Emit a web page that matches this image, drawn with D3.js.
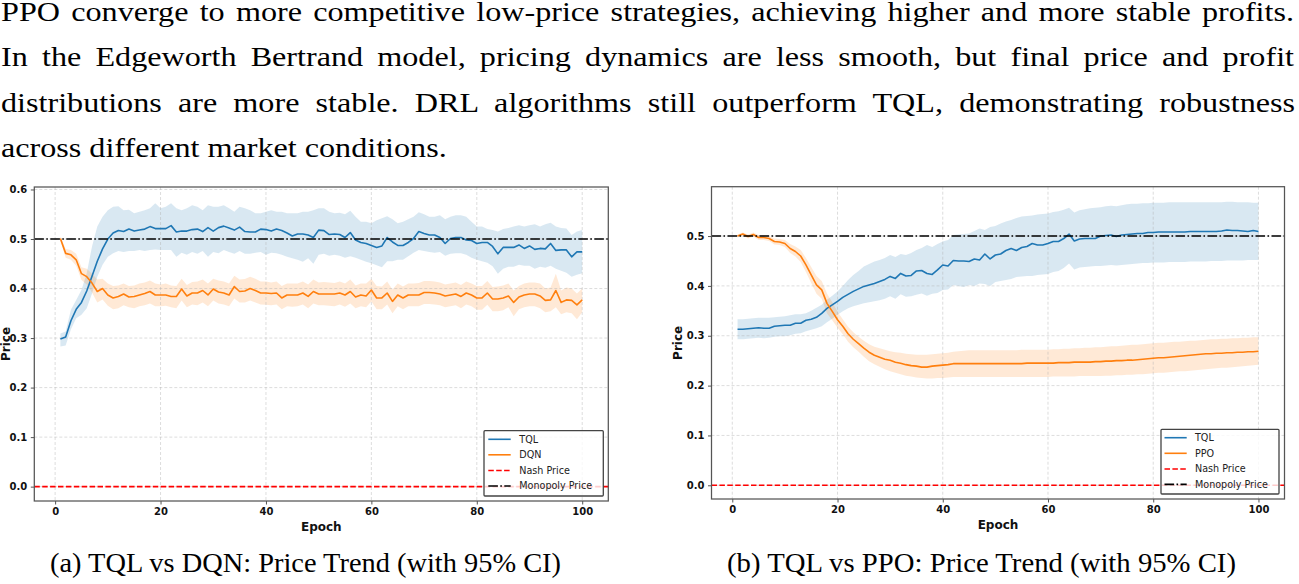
<!DOCTYPE html>
<html><head><meta charset="utf-8">
<script src="https://cdn.jsdelivr.net/npm/d3@7/dist/d3.min.js"></script>
<style>html,body{margin:0;padding:0;background:#fff;overflow:hidden}
.serif{font-family:"Liberation Serif","Times New Roman",serif;}</style>
</head><body><svg id="c" width="1299" height="584"></svg>
<script>
// ---------------- DATA ----------------
const epochs = d3.range(1, 101);
const xTicks = [0, 20, 40, 60, 80, 100];
const yTicksA = [0.0, 0.1, 0.2, 0.3, 0.4, 0.5, 0.6];
const yTicksB = [0.0, 0.1, 0.2, 0.3, 0.4, 0.5];
const nashPrice = 0.0;
const monopolyPrice = 0.5;

const paragraph = [
  "PPO converge to more competitive low-price strategies, achieving higher and more stable profits.",
  "In the Edgeworth Bertrand model, pricing dynamics are less smooth, but final price and profit",
  "distributions are more stable. DRL algorithms still outperform TQL, demonstrating robustness",
  "across different market conditions."
];
const captionA = "(a) TQL vs DQN: Price Trend (with 95% CI)";
const captionB = "(b) TQL vs PPO: Price Trend (with 95% CI)";
const legendA = ["TQL", "DQN", "Nash Price", "Monopoly Price"];
const legendB = ["TQL", "PPO", "Nash Price", "Monopoly Price"];

// Panel (a): TQL
const tqlA = [0.298,0.302,0.335,0.358,0.372,0.395,0.425,0.455,0.480,0.500,
0.512,0.517,0.515,0.520,0.516,0.518,0.520,0.525,0.521,0.521,
0.521,0.527,0.514,0.516,0.516,0.519,0.520,0.515,0.523,0.516,
0.523,0.526,0.522,0.518,0.524,0.515,0.514,0.514,0.520,0.519,
0.516,0.520,0.517,0.512,0.506,0.510,0.510,0.508,0.503,0.518,
0.517,0.509,0.510,0.509,0.503,0.513,0.498,0.493,0.491,0.487,
0.483,0.486,0.503,0.494,0.487,0.487,0.493,0.501,0.515,0.511,
0.508,0.508,0.503,0.491,0.501,0.503,0.503,0.498,0.497,0.491,
0.493,0.493,0.485,0.470,0.483,0.483,0.483,0.488,0.481,0.486,
0.479,0.481,0.480,0.491,0.477,0.478,0.478,0.464,0.474,0.474];
const tqlAHi = [0.309,0.313,0.357,0.377,0.397,0.431,0.485,0.525,0.545,0.558,
0.565,0.566,0.558,0.559,0.552,0.555,0.558,0.562,0.572,0.562,
0.565,0.572,0.562,0.558,0.562,0.568,0.565,0.558,0.568,0.565,
0.565,0.568,0.562,0.555,0.565,0.562,0.558,0.552,0.552,0.555,
0.558,0.555,0.555,0.552,0.552,0.552,0.555,0.555,0.558,0.562,
0.562,0.555,0.552,0.553,0.550,0.557,0.545,0.535,0.535,0.532,
0.538,0.542,0.546,0.540,0.532,0.535,0.540,0.545,0.554,0.550,
0.545,0.545,0.548,0.540,0.545,0.548,0.548,0.545,0.535,0.525,
0.525,0.520,0.518,0.515,0.520,0.522,0.525,0.528,0.525,0.528,
0.530,0.525,0.530,0.533,0.525,0.522,0.521,0.508,0.515,0.518];
const tqlALo = [0.283,0.285,0.318,0.340,0.347,0.360,0.390,0.424,0.448,0.464,
0.471,0.476,0.474,0.476,0.476,0.478,0.476,0.478,0.479,0.478,
0.478,0.478,0.464,0.472,0.468,0.474,0.470,0.476,0.464,0.474,
0.471,0.478,0.474,0.470,0.476,0.470,0.470,0.472,0.474,0.468,
0.472,0.471,0.468,0.464,0.461,0.458,0.454,0.461,0.450,0.468,
0.470,0.466,0.468,0.466,0.462,0.465,0.462,0.458,0.454,0.451,
0.447,0.443,0.455,0.455,0.458,0.458,0.465,0.472,0.478,0.476,
0.474,0.472,0.474,0.466,0.470,0.471,0.471,0.468,0.462,0.458,
0.455,0.452,0.445,0.430,0.440,0.444,0.444,0.448,0.446,0.446,
0.440,0.444,0.442,0.446,0.440,0.436,0.432,0.424,0.428,0.431];
// Panel (a): DQN
const dqnA = [0.501,0.471,0.468,0.458,0.430,0.424,0.411,0.394,0.400,0.387,
0.381,0.384,0.389,0.383,0.384,0.387,0.390,0.394,0.387,0.387,
0.387,0.384,0.384,0.399,0.385,0.391,0.391,0.396,0.387,0.399,
0.393,0.391,0.387,0.404,0.394,0.395,0.400,0.396,0.391,0.391,
0.390,0.391,0.381,0.387,0.387,0.387,0.391,0.384,0.394,0.389,
0.389,0.389,0.389,0.391,0.387,0.394,0.383,0.387,0.385,0.397,
0.381,0.381,0.391,0.374,0.387,0.381,0.387,0.387,0.387,0.392,
0.392,0.391,0.389,0.385,0.387,0.389,0.384,0.391,0.387,0.381,
0.381,0.391,0.379,0.379,0.381,0.385,0.372,0.383,0.387,0.389,
0.389,0.385,0.376,0.377,0.396,0.372,0.377,0.376,0.367,0.377];
const dqnAHi = [0.505,0.480,0.478,0.470,0.443,0.440,0.430,0.418,0.420,0.410,
0.405,0.406,0.410,0.405,0.406,0.410,0.412,0.416,0.410,0.408,
0.410,0.406,0.405,0.420,0.407,0.413,0.414,0.418,0.410,0.420,
0.416,0.414,0.410,0.426,0.418,0.419,0.424,0.420,0.414,0.414,
0.412,0.414,0.405,0.410,0.410,0.410,0.414,0.408,0.418,0.412,
0.413,0.412,0.411,0.414,0.410,0.418,0.406,0.410,0.410,0.419,
0.405,0.404,0.414,0.398,0.410,0.404,0.410,0.410,0.411,0.415,
0.415,0.414,0.412,0.408,0.410,0.412,0.407,0.414,0.410,0.405,
0.405,0.415,0.403,0.404,0.406,0.410,0.396,0.405,0.410,0.412,
0.412,0.410,0.400,0.402,0.430,0.396,0.402,0.400,0.390,0.400];
const dqnALo = [0.497,0.462,0.458,0.446,0.417,0.408,0.392,0.372,0.378,0.365,
0.358,0.360,0.366,0.362,0.360,0.364,0.366,0.370,0.364,0.364,
0.365,0.362,0.360,0.376,0.362,0.368,0.366,0.372,0.364,0.376,
0.370,0.368,0.364,0.380,0.372,0.372,0.376,0.372,0.368,0.367,
0.366,0.368,0.358,0.364,0.363,0.364,0.368,0.360,0.370,0.366,
0.366,0.365,0.364,0.368,0.363,0.370,0.360,0.364,0.362,0.374,
0.358,0.358,0.368,0.350,0.364,0.358,0.364,0.364,0.364,0.369,
0.369,0.368,0.366,0.362,0.364,0.366,0.360,0.368,0.364,0.357,
0.357,0.367,0.354,0.354,0.356,0.362,0.344,0.358,0.362,0.364,
0.364,0.360,0.352,0.354,0.362,0.348,0.352,0.350,0.338,0.352];

// Panel (b): TQL
const tqlB = [0.313,0.313,0.314,0.315,0.316,0.315,0.315,0.319,0.320,0.321,
0.321,0.325,0.325,0.331,0.333,0.337,0.345,0.355,0.362,0.369,
0.377,0.383,0.389,0.394,0.399,0.402,0.405,0.409,0.413,0.419,
0.415,0.425,0.420,0.421,0.430,0.431,0.425,0.423,0.432,0.442,
0.440,0.451,0.450,0.450,0.449,0.454,0.452,0.464,0.454,0.462,
0.464,0.471,0.475,0.471,0.477,0.479,0.485,0.482,0.482,0.485,
0.489,0.489,0.495,0.504,0.490,0.494,0.495,0.495,0.495,0.500,
0.501,0.502,0.499,0.502,0.503,0.504,0.505,0.505,0.507,0.507,
0.508,0.508,0.508,0.508,0.508,0.508,0.509,0.509,0.509,0.509,
0.509,0.509,0.510,0.512,0.511,0.511,0.510,0.509,0.511,0.509];
const tqlBHi = [0.333,0.333,0.334,0.335,0.336,0.336,0.336,0.337,0.338,0.339,
0.341,0.343,0.343,0.345,0.350,0.356,0.362,0.372,0.380,0.389,
0.400,0.412,0.422,0.430,0.439,0.444,0.449,0.452,0.456,0.462,
0.458,0.464,0.462,0.466,0.472,0.476,0.482,0.478,0.484,0.489,
0.492,0.502,0.503,0.504,0.505,0.510,0.515,0.512,0.518,0.520,
0.525,0.529,0.532,0.536,0.539,0.540,0.541,0.543,0.544,0.545,
0.548,0.550,0.553,0.557,0.547,0.552,0.554,0.556,0.557,0.558,
0.560,0.561,0.560,0.562,0.564,0.565,0.565,0.566,0.566,0.567,
0.567,0.567,0.568,0.568,0.568,0.568,0.568,0.568,0.568,0.568,
0.568,0.568,0.568,0.569,0.569,0.568,0.568,0.568,0.567,0.567];
const tqlBLo = [0.293,0.293,0.294,0.295,0.296,0.295,0.296,0.298,0.299,0.299,
0.301,0.304,0.305,0.309,0.312,0.315,0.319,0.327,0.334,0.342,
0.349,0.355,0.359,0.362,0.365,0.367,0.369,0.371,0.374,0.379,
0.374,0.383,0.378,0.379,0.382,0.385,0.380,0.384,0.386,0.392,
0.393,0.402,0.400,0.398,0.402,0.400,0.405,0.404,0.400,0.408,
0.410,0.412,0.414,0.418,0.419,0.420,0.420,0.422,0.423,0.424,
0.428,0.430,0.436,0.445,0.433,0.437,0.438,0.439,0.440,0.440,
0.441,0.442,0.441,0.442,0.443,0.444,0.445,0.446,0.446,0.447,
0.447,0.447,0.448,0.448,0.448,0.448,0.449,0.449,0.449,0.449,
0.450,0.450,0.450,0.451,0.451,0.451,0.451,0.452,0.452,0.452];
// Panel (b): PPO
const ppoB = [0.500,0.504,0.499,0.503,0.497,0.497,0.495,0.489,0.488,0.485,
0.475,0.469,0.460,0.442,0.422,0.402,0.392,0.365,0.349,0.332,
0.319,0.304,0.293,0.284,0.275,0.267,0.261,0.257,0.253,0.251,
0.247,0.245,0.242,0.240,0.239,0.237,0.237,0.239,0.240,0.241,
0.242,0.244,0.244,0.244,0.244,0.244,0.244,0.244,0.244,0.244,
0.244,0.244,0.244,0.244,0.244,0.245,0.245,0.245,0.245,0.245,
0.245,0.246,0.246,0.246,0.247,0.247,0.247,0.247,0.248,0.248,
0.249,0.249,0.250,0.250,0.251,0.251,0.252,0.253,0.254,0.255,
0.256,0.256,0.257,0.258,0.259,0.260,0.261,0.262,0.263,0.264,
0.264,0.265,0.265,0.266,0.266,0.267,0.267,0.268,0.268,0.269];
const ppoBHi = [0.503,0.507,0.503,0.507,0.502,0.502,0.500,0.495,0.494,0.492,
0.484,0.479,0.472,0.456,0.438,0.420,0.410,0.385,0.367,0.348,
0.333,0.318,0.307,0.298,0.290,0.283,0.278,0.275,0.272,0.269,
0.267,0.266,0.264,0.263,0.262,0.262,0.262,0.263,0.264,0.265,
0.266,0.268,0.269,0.270,0.271,0.271,0.271,0.271,0.271,0.271,
0.271,0.271,0.271,0.271,0.272,0.272,0.272,0.272,0.272,0.272,
0.273,0.273,0.274,0.274,0.275,0.275,0.276,0.276,0.277,0.277,
0.278,0.279,0.279,0.280,0.281,0.282,0.282,0.283,0.284,0.285,
0.286,0.286,0.287,0.288,0.288,0.289,0.290,0.290,0.291,0.292,
0.293,0.293,0.294,0.294,0.295,0.295,0.296,0.296,0.297,0.297];
const ppoBLo = [0.497,0.501,0.495,0.499,0.492,0.492,0.490,0.483,0.482,0.478,
0.466,0.459,0.448,0.428,0.406,0.384,0.374,0.345,0.331,0.316,
0.303,0.288,0.277,0.268,0.258,0.249,0.243,0.238,0.233,0.229,
0.226,0.223,0.220,0.218,0.216,0.215,0.214,0.214,0.215,0.215,
0.216,0.217,0.217,0.217,0.217,0.217,0.217,0.217,0.217,0.217,
0.217,0.217,0.217,0.217,0.217,0.217,0.217,0.217,0.217,0.217,
0.218,0.218,0.218,0.218,0.218,0.219,0.219,0.219,0.219,0.219,
0.220,0.220,0.221,0.221,0.222,0.222,0.223,0.223,0.224,0.225,
0.226,0.226,0.227,0.228,0.229,0.229,0.230,0.231,0.232,0.233,
0.234,0.235,0.236,0.236,0.237,0.238,0.239,0.240,0.241,0.242];

// ---------------- DRAWING ----------------
const svg = d3.select("#c");
svg.append("rect").attr("width", 1299).attr("height", 584).attr("fill", "#fff");

const BLUE = "#1f77b4", ORANGE = "#ff7f0e";
const tickFont = "'DejaVu Sans', sans-serif";

// paragraph text: glyphs widened to a Computer-Modern-like width, lines justified by word spacing
const paraSpec = [
  {x: 1, y: 21, right: 1294},
  {x: 1, y: 66.5, right: 1294},
  {x: 1, y: 112, right: 1295},
  {x: 1, y: 157.5, right: 447}
];
const paraG = svg.append("g");
const paraNodes = paragraph.map((t, i) => paraG.append("text")
  .attr("class", "serif")
  .attr("x", 0).attr("y", paraSpec[i].y)
  .attr("font-size", 27.5).attr("fill", "#000")
  .text(t));
const natLast = paraNodes[3].node().getComputedTextLength();
const sx = (paraSpec[3].right - paraSpec[3].x) / natLast;
paraNodes.forEach((n, i) => {
  const spec = paraSpec[i];
  n.attr("transform", `translate(${spec.x},0) scale(${sx},1)`);
  if (i < 3) {
    const nat = n.node().getComputedTextLength();
    const spaces = (paragraph[i].match(/ /g) || []).length;
    const target = (spec.right - spec.x) / sx;
    n.style("word-spacing", ((target - nat) / spaces) + "px");
  }
});

function panel(cfg) {
  const x = d3.scaleLinear().domain([-3.95, 104.95]).range([cfg.left, cfg.right]);
  const y = d3.scaleLinear().domain(cfg.yDomain).range([cfg.bottom, cfg.top]);
  const g = svg.append("g");

  // CI bands
  cfg.series.forEach(s => {
    const area = d3.area().x((d, i) => x(epochs[i])).y0((d, i) => y(s.lo[i])).y1((d, i) => y(s.hi[i]));
    g.append("path").datum(s.mean).attr("d", area).attr("fill", s.color).attr("fill-opacity", 0.17).attr("stroke", "none");
  });

  // grid
  const grid = g.append("g").attr("stroke", "#b0b0b0").attr("stroke-opacity", 0.55)
    .attr("stroke-width", 0.8).attr("stroke-dasharray", "3,2");
  xTicks.forEach(t => grid.append("line").attr("x1", x(t)).attr("x2", x(t)).attr("y1", cfg.top).attr("y2", cfg.bottom));
  cfg.yTicks.forEach(t => grid.append("line").attr("y1", y(t)).attr("y2", y(t)).attr("x1", cfg.left).attr("x2", cfg.right));

  // mean lines
  cfg.series.forEach(s => {
    const line = d3.line().x((d, i) => x(epochs[i])).y(d => y(d));
    g.append("path").datum(s.mean).attr("d", line).attr("fill", "none")
      .attr("stroke", s.color).attr("stroke-width", 1.6).attr("stroke-linejoin", "round");
  });

  // reference lines
  g.append("line").attr("x1", cfg.left).attr("x2", cfg.right).attr("y1", y(nashPrice)).attr("y2", y(nashPrice))
    .attr("stroke", "#ff0000").attr("stroke-width", 1.6).attr("stroke-dasharray", "5.5,2.4");
  g.append("line").attr("x1", cfg.left).attr("x2", cfg.right).attr("y1", y(monopolyPrice)).attr("y2", y(monopolyPrice))
    .attr("stroke", "#000").attr("stroke-width", 1.6).attr("stroke-dasharray", "9.6,2.4,1.6,2.4");

  // spines
  g.append("rect").attr("x", cfg.left).attr("y", cfg.top).attr("width", cfg.right - cfg.left)
    .attr("height", cfg.bottom - cfg.top).attr("fill", "none").attr("stroke", "#555").attr("stroke-width", 1.25);

  // axes
  const xAxis = d3.axisBottom(x).tickValues(xTicks).tickFormat(d3.format("d")).tickSize(3.5).tickPadding(3.5);
  const gx = g.append("g").attr("transform", `translate(0,${cfg.bottom})`).call(xAxis);
  const yAxis = d3.axisLeft(y).tickValues(cfg.yTicks).tickFormat(d3.format(".1f")).tickSize(3.5).tickPadding(3.5);
  const gy = g.append("g").attr("transform", `translate(${cfg.left},0)`).call(yAxis);
  [gx, gy].forEach(a => {
    a.select(".domain").remove();
    a.selectAll(".tick line").attr("stroke", "#555").attr("stroke-width", 1);
    a.selectAll(".tick text").attr("font-family", tickFont).attr("font-size", 10)
      .attr("font-weight", "bold").attr("fill", "#111");
  });

  // axis labels
  g.append("text").attr("x", (cfg.left + cfg.right) / 2).attr("y", cfg.bottom + 29.5)
    .attr("text-anchor", "middle").attr("font-family", tickFont).attr("font-size", 12)
    .attr("font-weight", "bold").attr("fill", "#111").text("Epoch");
  g.append("text").attr("transform", `translate(${cfg.ylabX},${(cfg.top + cfg.bottom) / 2}) rotate(-90)`)
    .attr("text-anchor", "middle").attr("font-family", tickFont).attr("font-size", 12)
    .attr("font-weight", "bold").attr("fill", "#111").text("Price");

  // legend
  const L = cfg.legend;
  const lg = g.append("g");
  lg.append("rect").attr("x", L.x).attr("y", L.y).attr("width", L.w).attr("height", L.h)
    .attr("fill", "#fff").attr("fill-opacity", 0.8).attr("stroke", "#444").attr("stroke-width", 1.3).attr("rx", 1);
  const styles = [
    {c: BLUE, dash: null},
    {c: ORANGE, dash: null},
    {c: "#ff0000", dash: "5.5,2.4"},
    {c: "#000", dash: "9.6,2.4,1.6,2.4"}
  ];
  cfg.legendLabels.forEach((lab, i) => {
    const yy = L.rowY[i];
    const ln = lg.append("line").attr("x1", L.hx0).attr("x2", L.hx1).attr("y1", yy).attr("y2", yy)
      .attr("stroke", styles[i].c).attr("stroke-width", 1.6);
    if (styles[i].dash) ln.attr("stroke-dasharray", styles[i].dash);
    lg.append("text").attr("x", L.tx).attr("y", yy).attr("dy", "0.35em")
      .attr("font-family", tickFont).attr("font-size", 9.6).attr("fill", "#222").text(lab);
  });

  // caption
  svg.append("text").attr("class", "serif").attr("x", cfg.capX).attr("y", 571.5)
    .attr("font-size", 26.5).attr("fill", "#000").attr("textLength", cfg.capLen)
    .attr("lengthAdjust", "spacingAndGlyphs").text(cfg.caption);
}

panel({
  left: 34.3, right: 608.3, top: 187, bottom: 501, ylabX: 9.5,
  yDomain: [-0.029, 0.605], yTicks: yTicksA,
  series: [
    {mean: tqlA, lo: tqlALo, hi: tqlAHi, color: BLUE},
    {mean: dqnA, lo: dqnALo, hi: dqnAHi, color: ORANGE}
  ],
  legend: {x: 484, y: 430.7, w: 119.3, h: 65.3, rowY: [439.3, 454.8, 470.5, 486], hx0: 488.3, hx1: 510.7, tx: 519.3},
  legendLabels: legendA,
  caption: captionA, capX: 50, capLen: 511
});
panel({
  left: 711.5, right: 1284.5, top: 186.7, bottom: 499, ylabX: 681.5,
  yDomain: [-0.0275, 0.599], yTicks: yTicksB,
  series: [
    {mean: tqlB, lo: tqlBLo, hi: tqlBHi, color: BLUE},
    {mean: ppoB, lo: ppoBLo, hi: ppoBHi, color: ORANGE}
  ],
  legend: {x: 1161, y: 429.3, w: 118, h: 64.7, rowY: [437.7, 453.3, 469, 484.4], hx0: 1164.5, hx1: 1186.7, tx: 1195},
  legendLabels: legendB,
  caption: captionB, capX: 727, capLen: 509
});
</script></body></html>
